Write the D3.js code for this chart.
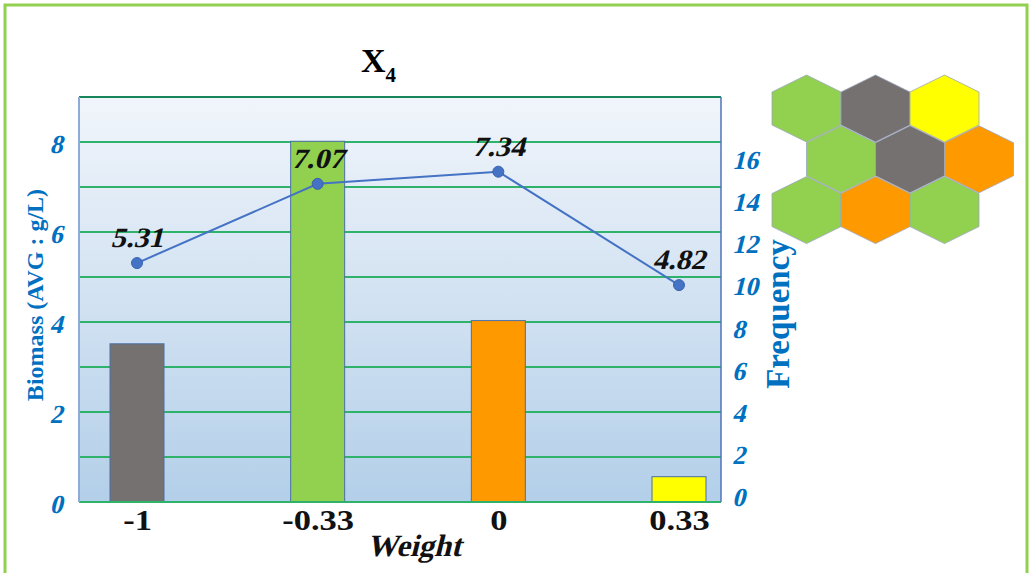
<!DOCTYPE html>
<html>
<head>
<meta charset="utf-8">
<script src="https://cdn.jsdelivr.net/npm/d3@7"></script>
<style>
  html, body { margin: 0; padding: 0; background: #ffffff; }
  svg { display: block; }
</style>
</head>
<body>
<svg id="chart" width="1032" height="573"></svg>
<script>
// Weight categories and the two measured series
const weights = ["-1", "-0.33", "0", "0.33"];
const biomass = [5.31, 7.07, 7.34, 4.82];      // average biomass, g/L (line)
const frequency = [7.5, 17.1, 8.6, 1.2];       // frequency (bars)
const barColors = ["#767171", "#92d050", "#ff9900", "#ffff00"];

// Axis ticks
const biomassTicks = [0, 2, 4, 6, 8];
const biomassGrid = [1, 2, 3, 4, 5, 6, 7, 8];
const frequencyTicks = [0, 2, 4, 6, 8, 10, 12, 14, 16];

// Hexagon tiling colours, row by row
const hexRow1 = ["#92d050", "#767171", "#ffff00"];
const hexRow2 = ["#92d050", "#767171", "#ff9900"];
const hexRow3 = ["#92d050", "#ff9900", "#92d050"];

const svg = d3.select("#chart");
const serif = "'Liberation Serif', 'Times New Roman', serif";
const blue = "#0070c0";
const slant = "skewX(-14)";   // oblique serif lettering

// Outer frame
svg.append("rect")
  .attr("x", 5).attr("y", 5)
  .attr("width", 1022).attr("height", 580)
  .attr("fill", "none")
  .attr("stroke", "#92d050")
  .attr("stroke-width", 3);

// Plot area
const plot = { left: 79, right: 721, top: 97, bottom: 502 };

const defs = svg.append("defs");
const grad = defs.append("linearGradient")
  .attr("id", "plotBg").attr("x1", 0).attr("y1", 0).attr("x2", 0).attr("y2", 1);
grad.append("stop").attr("offset", "0%").attr("stop-color", "#f1f5fb");
grad.append("stop").attr("offset", "100%").attr("stop-color", "#b3cfe9");

svg.append("rect")
  .attr("x", plot.left).attr("y", plot.top)
  .attr("width", plot.right - plot.left)
  .attr("height", plot.bottom - plot.top)
  .attr("fill", "url(#plotBg)");

// Scales
const x = d3.scalePoint()
  .domain(weights)
  .range([plot.left + 58, plot.right - 42]);

const yLeft = d3.scaleLinear().domain([0, 9]).range([plot.bottom, plot.top]);
const yRight = d3.scaleLinear().domain([0, 19.2]).range([plot.bottom, plot.top]);

// Horizontal gridlines
svg.append("g")
  .selectAll("line")
  .data(biomassGrid)
  .join("line")
  .attr("x1", plot.left).attr("x2", plot.right)
  .attr("y1", d => yLeft(d)).attr("y2", d => yLeft(d))
  .attr("stroke", "#2fb36a")
  .attr("stroke-width", 2);

// Top border of plot
svg.append("line")
  .attr("x1", plot.left).attr("x2", plot.right)
  .attr("y1", yLeft(9)).attr("y2", yLeft(9))
  .attr("stroke", "#17875b").attr("stroke-width", 2);

// Bars (frequency, right axis)
const barWidth = 54;
svg.append("g")
  .selectAll("rect")
  .data(weights)
  .join("rect")
  .attr("x", d => x(d) - barWidth / 2)
  .attr("y", (d, i) => yRight(frequency[i]))
  .attr("width", barWidth)
  .attr("height", (d, i) => yRight(0) - yRight(frequency[i]))
  .attr("fill", (d, i) => barColors[i])
  .attr("stroke", "#4a6fa5")
  .attr("stroke-width", 1);

// Baseline
svg.append("line")
  .attr("x1", plot.left).attr("x2", plot.right)
  .attr("y1", yLeft(0)).attr("y2", yLeft(0))
  .attr("stroke", "#2fb36a").attr("stroke-width", 2);

// Side borders
svg.append("line")
  .attr("x1", plot.left).attr("x2", plot.left)
  .attr("y1", plot.top).attr("y2", plot.bottom)
  .attr("stroke", "#8eaad6").attr("stroke-width", 2);
svg.append("line")
  .attr("x1", plot.right).attr("x2", plot.right)
  .attr("y1", plot.top).attr("y2", plot.bottom)
  .attr("stroke", "#4f73b8").attr("stroke-width", 1.5);

// Biomass line (left axis)
const line = d3.line()
  .x((d, i) => x(weights[i]))
  .y(d => yLeft(d));

svg.append("path")
  .datum(biomass)
  .attr("d", line)
  .attr("fill", "none")
  .attr("stroke", "#4472c4")
  .attr("stroke-width", 2);

svg.append("g")
  .selectAll("circle")
  .data(biomass)
  .join("circle")
  .attr("cx", (d, i) => x(weights[i]))
  .attr("cy", d => yLeft(d))
  .attr("r", 5.5)
  .attr("fill", "#4472c4")
  .attr("stroke", "#3a62ad")
  .attr("stroke-width", 1);

// Value labels
svg.append("g")
  .selectAll("g")
  .data(biomass)
  .join("g")
  .attr("transform", (d, i) => `translate(${x(weights[i])},${yLeft(d) - 16})`)
  .append("text")
  .attr("transform", slant + " scale(1.08,1)")
  .attr("text-anchor", "middle")
  .attr("font-family", serif)
  .attr("font-size", 28)
  .attr("font-weight", "bold")
  .attr("fill", "#111")
  .text(d => d.toFixed(2));

// Left axis
const leftAxis = d3.axisLeft(yLeft).tickValues(biomassTicks).tickSize(0).tickPadding(14);
const gl = svg.append("g")
  .attr("transform", `translate(${plot.left},0)`)
  .call(leftAxis);
gl.select(".domain").remove();
gl.selectAll("text")
  .attr("transform", slant)
  .attr("dy", "0.4em")
  .attr("font-family", serif)
  .attr("font-size", 26)
  .attr("font-weight", "bold")
  .attr("fill", blue);

// Right axis
const rightAxis = d3.axisRight(yRight).tickValues(frequencyTicks).tickSize(0).tickPadding(12);
const gr = svg.append("g")
  .attr("transform", `translate(${plot.right},0)`)
  .call(rightAxis);
gr.select(".domain").remove();
gr.selectAll("text")
  .attr("transform", slant)
  .attr("dy", "0.15em")
  .attr("font-family", serif)
  .attr("font-size", 26)
  .attr("font-weight", "bold")
  .attr("fill", blue);

// Bottom axis
const bottomAxis = d3.axisBottom(x).tickSize(0).tickPadding(7);
const gb = svg.append("g")
  .attr("transform", `translate(0,${plot.bottom})`)
  .call(bottomAxis);
gb.select(".domain").remove();
gb.selectAll("text")
  .attr("transform", "scale(1.15,1)")
  .attr("x", function () { return 0; })
  .attr("font-family", serif)
  .attr("font-size", 30)
  .attr("font-weight", "bold")
  .attr("fill", "#111");

// Axis titles
svg.append("text")
  .attr("transform", "translate(43,295) rotate(-90)")
  .attr("text-anchor", "middle")
  .attr("font-family", serif)
  .attr("font-size", 24)
  .attr("font-weight", "bold")
  .attr("fill", blue)
  .text("Biomass (AVG : g/L)");

svg.append("text")
  .attr("transform", "translate(789,314) rotate(-90)")
  .attr("text-anchor", "middle")
  .attr("font-family", serif)
  .attr("font-size", 33)
  .attr("font-weight", "bold")
  .attr("fill", blue)
  .text("Frequency");

svg.append("g")
  .attr("transform", "translate(414,556)")
  .append("text")
  .attr("transform", slant)
  .attr("text-anchor", "middle")
  .attr("font-family", serif)
  .attr("font-size", 31)
  .attr("font-weight", "bold")
  .attr("fill", "#111")
  .text("Weight");

// Title X4
const title = svg.append("text")
  .attr("x", 361).attr("y", 72)
  .attr("font-family", serif)
  .attr("font-weight", "bold")
  .attr("fill", "#000");
title.append("tspan").attr("font-size", 34).text("X");
title.append("tspan").attr("font-size", 21).attr("dy", 10).text("4");

// Hexagon tiling
const hexRows = [hexRow1, hexRow2, hexRow3];
const hexW = 34.5, hexTip = 33.5, hexShoulder = 16.5;
const hexStep = 69, rowStep = 50.8;
const hexOrigin = { x: 806.5, y: 108.5 };
const hexPath = (cx, cy) => d3.line()([
  [cx, cy - hexTip], [cx + hexW, cy - hexShoulder], [cx + hexW, cy + hexShoulder],
  [cx, cy + hexTip], [cx - hexW, cy + hexShoulder], [cx - hexW, cy - hexShoulder]
]) + "Z";

const hexData = [];
hexRows.forEach((row, r) => row.forEach((c, k) => hexData.push({ r, k, c })));

svg.append("g")
  .selectAll("path")
  .data(hexData)
  .join("path")
  .attr("d", d => hexPath(
    hexOrigin.x + d.k * hexStep + (d.r === 1 ? hexStep / 2 : 0),
    hexOrigin.y + d.r * rowStep))
  .attr("fill", d => d.c)
  .attr("stroke", "#9aa6bd")
  .attr("stroke-width", 0.8);
</script>
</body>
</html>
